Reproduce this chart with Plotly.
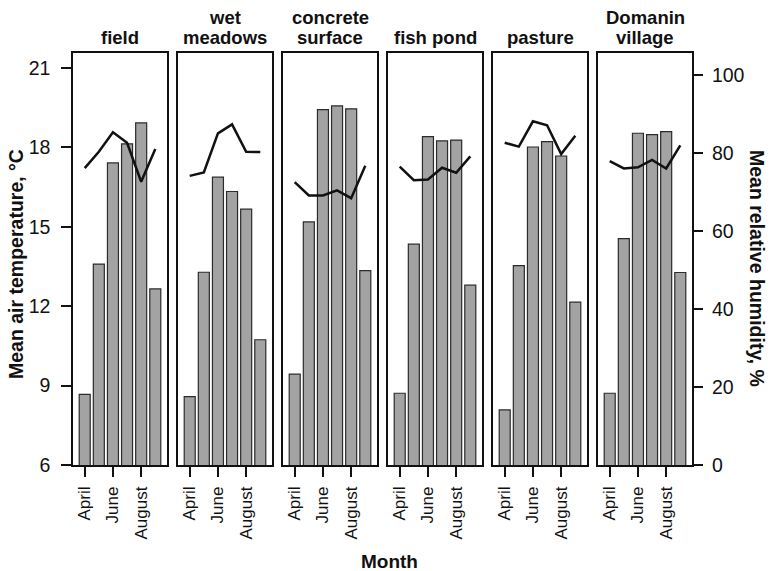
import plotly.graph_objects as go

months = ["April", "May", "June", "July", "August", "September"]
month_ticks = ["April", "June", "August"]

sites = ["field", "wet\nmeadows", "concrete\nsurface", "fish pond", "pasture", "Domanin\nvillage"]

temp_field = [8.67, 13.59, 17.41, 18.13, 18.92, 12.65]
temp_wet_meadows = [8.58, 13.28, 16.87, 16.33, 15.66, 10.73]
temp_concrete = [9.43, 15.18, 19.42, 19.56, 19.45, 13.34]
temp_fish_pond = [8.71, 14.34, 18.40, 18.24, 18.27, 12.79]
temp_pasture = [8.08, 13.53, 18.01, 18.21, 17.67, 12.15]
temp_domanin = [8.71, 14.55, 18.53, 18.48, 18.59, 13.27]

hum_field = [76.1, 80.3, 85.3, 82.6, 72.6, 81.0]
hum_wet_meadows = [74.1, 75.0, 85.0, 87.3, 80.3, 80.2]
hum_concrete = [72.5, 69.1, 69.1, 70.4, 68.4, 76.7]
hum_fish_pond = [76.5, 73.0, 73.2, 76.2, 74.9, 79.1]
hum_pasture = [82.6, 81.6, 88.1, 87.1, 79.7, 84.4]
hum_domanin = [77.9, 76.0, 76.3, 78.2, 76.0, 81.9]

temp_ticks = [6, 9, 12, 15, 18, 21]
hum_ticks = [0, 20, 40, 60, 80, 100]

temps = [temp_field, temp_wet_meadows, temp_concrete, temp_fish_pond, temp_pasture, temp_domanin]
hums = [hum_field, hum_wet_meadows, hum_concrete, hum_fish_pond, hum_pasture, hum_domanin]

FONT = "Liberation Sans, Arial, sans-serif"
W, H = 770, 571
L, R, T, B = 73, 78, 53, 106
PW = W - L - R
PH = H - T - B
panel_px = [(73, 167), (178, 272), (283, 377), (388, 482), (493, 587), (598, 692)]


def px_x(x):
    return (x - L) / PW


def px_y(y):
    return (H - B - y) / PH


fig = go.Figure()
layout = {}
n = len(sites)
for i in range(n):
    xs = "" if i == 0 else str(i + 1)
    ys_t = "" if i == 0 else str(i + 1)
    ys_h = str(n + i + 1)

    fig.add_trace(go.Bar(
        x=months, y=temps[i], xaxis="x" + xs, yaxis="y" + ys_t,
        width=0.78, marker=dict(color="#a3a3a3", line=dict(color="#2b2b2b", width=1.2)),
        showlegend=False,
    ))
    fig.add_trace(go.Scatter(
        x=months, y=hums[i], xaxis="x" + xs, yaxis="y" + ys_h,
        mode="lines", line=dict(color="#111111", width=2.5), showlegend=False,
    ))

    x0, x1 = panel_px[i]
    layout["xaxis" + xs] = dict(
        domain=[px_x(x0), px_x(x1)], anchor="y" + ys_t,
        type="category", categoryarray=months, range=[-0.83, 5.83],
        tickvals=month_ticks, ticktext=month_ticks, tickangle=-90,
        ticks="outside", ticklen=10, tickwidth=1.5, tickcolor="#111",
        ticklabelstandoff=3,
        tickfont=dict(size=17, color="#111", family=FONT),
        showline=True, mirror=True, linecolor="#111", linewidth=1.5,
        showgrid=False, zeroline=False, fixedrange=True,
    )
    layout["yaxis" + ys_t] = dict(
        domain=[0, 1], anchor="x" + xs, range=[6, 21.56],
        tickvals=temp_ticks,
        ticks="outside" if i == 0 else "", ticklen=10, tickwidth=1.5, tickcolor="#111",
        ticklabelstandoff=7,
        showticklabels=(i == 0), tickfont=dict(size=19.5, color="#111", family=FONT),
        showline=True, mirror=True, linecolor="#111", linewidth=1.5,
        showgrid=False, zeroline=False,
    )
    layout["yaxis" + ys_h] = dict(
        overlaying="y" + ys_t, side="right", anchor="x" + xs, range=[0, 105.6],
        tickvals=hum_ticks,
        ticks="outside" if i == n - 1 else "", ticklen=10, tickwidth=1.5, tickcolor="#111",
        ticklabelstandoff=5,
        showticklabels=(i == n - 1), tickfont=dict(size=19.5, color="#111", family=FONT),
        showline=False, showgrid=False, zeroline=False,
    )

annotations = []
for i, name in enumerate(sites):
    x0, x1 = panel_px[i]
    lines = name.split("\n")
    ys = [37] if len(lines) == 1 else [17, 37]
    for txt, yy in zip(lines, ys):
        annotations.append(dict(
            text="<b>%s</b>" % txt, x=px_x((x0 + x1) / 2), y=px_y(yy),
            xref="paper", yref="paper", xanchor="center", yanchor="middle",
            showarrow=False, font=dict(size=18.5, color="#111", family=FONT),
        ))

annotations.append(dict(
    text="<b>Mean air temperature, °C</b>", x=px_x(16), y=px_y(264),
    xref="paper", yref="paper", xanchor="center", yanchor="middle",
    textangle=-90, showarrow=False, font=dict(size=19.5, color="#111", family=FONT),
))
annotations.append(dict(
    text="<b>Mean relative humidity, %</b>", x=px_x(757), y=px_y(268),
    xref="paper", yref="paper", xanchor="center", yanchor="middle",
    textangle=90, showarrow=False, font=dict(size=19.5, color="#111", family=FONT),
))
annotations.append(dict(
    text="<b>Month</b>", x=px_x(389), y=px_y(561),
    xref="paper", yref="paper", xanchor="center", yanchor="middle",
    showarrow=False, font=dict(size=19, color="#111", family=FONT),
))

fig.update_layout(
    width=W, height=H,
    margin=dict(l=L, r=R, t=T, b=B, pad=0),
    plot_bgcolor="white", paper_bgcolor="white",
    font=dict(family=FONT, color="#111"),
    annotations=annotations,
    bargap=0.2,
    **layout,
)

fig.write_html("out.html", config={"displayModeBar": False},
               post_script="document.body.style.margin='0';")
